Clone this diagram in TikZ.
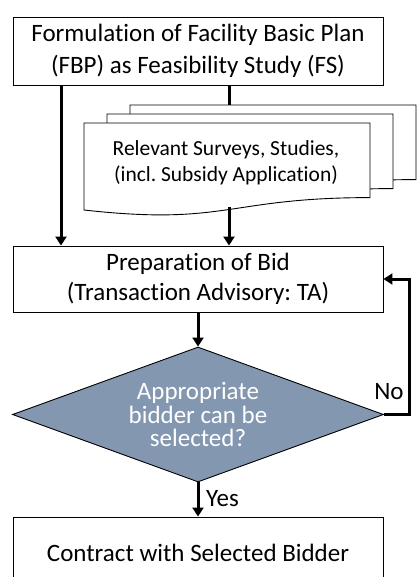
\documentclass[tikz,border=0pt]{standalone}
\usepackage{fontspec}
\setmainfont{Carlito}[Ligatures=NoCommon]
\usetikzlibrary{shapes.geometric,arrows.meta,calc}
\definecolor{decfill}{HTML}{8497B0}
\frenchspacing
\tikzset{
  box/.style={draw=black, line width=0.9pt, fill=white, minimum width=370pt, align=center, inner sep=0pt, font=\fontsize{25}{30}\selectfont},
  docpage/.style={draw=black, line width=0.9pt, fill=white},
  flow/.style={line width=3pt, -{Triangle[width=11pt,length=9pt]}},
  plainflow/.style={line width=3pt},
  lbl/.style={font=\fontsize{25}{30}\selectfont, inner sep=0pt},
}
\newcommand\docpath{(0,0) -- (286,0) -- (286,74.6) .. controls (143,74.6) and (143,103) .. (0,87) -- cycle}
\begin{document}
\begin{tikzpicture}[x=1pt,y=-1pt]
\useasboundingbox (0,0) rectangle (419,577);
\clip (0,0) rectangle (419,577);
% top box
\node[box, minimum height=68pt, font=\fontsize{25}{32.5}\selectfont] (fbp) at (198,51) {Formulation of Facility Basic Plan\\(FBP) as Feasibility Study (FS)};
% multi-document
\begin{scope}[shift={(130,105)}]
  \draw[docpage] \docpath;
\end{scope}
\begin{scope}[shift={(107,114)}]
  \draw[docpage] \docpath;
\end{scope}
\begin{scope}[shift={(84,123)}]
  \draw[docpage] \docpath;
\end{scope}
\node[align=center, inner sep=0pt, font=\fontsize{21.5}{26}\selectfont] (doc) at (226,163) {Relevant Surveys, Studies,\\(incl. Subsidy Application)};
\coordinate (doctop) at (229,105);
\coordinate (docbot) at (229,207);
\coordinate (L) at (61,0);
% preparation box
\node[box, minimum height=66pt] (bid) at (198,279) {Preparation of Bid\\(Transaction Advisory: TA)};
% decision
\node[diamond, draw=black, line width=0.9pt, fill=decfill, text=white, aspect=2.75, inner sep=0pt,
      minimum width=371pt, minimum height=135pt, align=center, font=\fontsize{25}{23.5}\selectfont] (sel) at (198,414.5) {Appropriate\\bidder can be\\selected?};
% contract box
\node[box, minimum height=72pt] (con) at (198,553) {Contract with Selected Bidder};
% connectors
\draw[plainflow] (fbp.south -| doctop) -- (doctop);
\draw[flow] (fbp.south -| L) -- (bid.north -| L);
\draw[flow] (docbot) -- (bid.north -| docbot);
\draw[flow] (bid.south) -- (sel.north);
\draw[flow] (sel.east) -- ++(26,0) |- (bid.east);
\draw[flow] (sel.south) -- (con.north);
\node[lbl] (no) at (389,392) {No};
\node[lbl, anchor=west] (yes) at (206,499) {Yes};
\end{tikzpicture}
\end{document}
